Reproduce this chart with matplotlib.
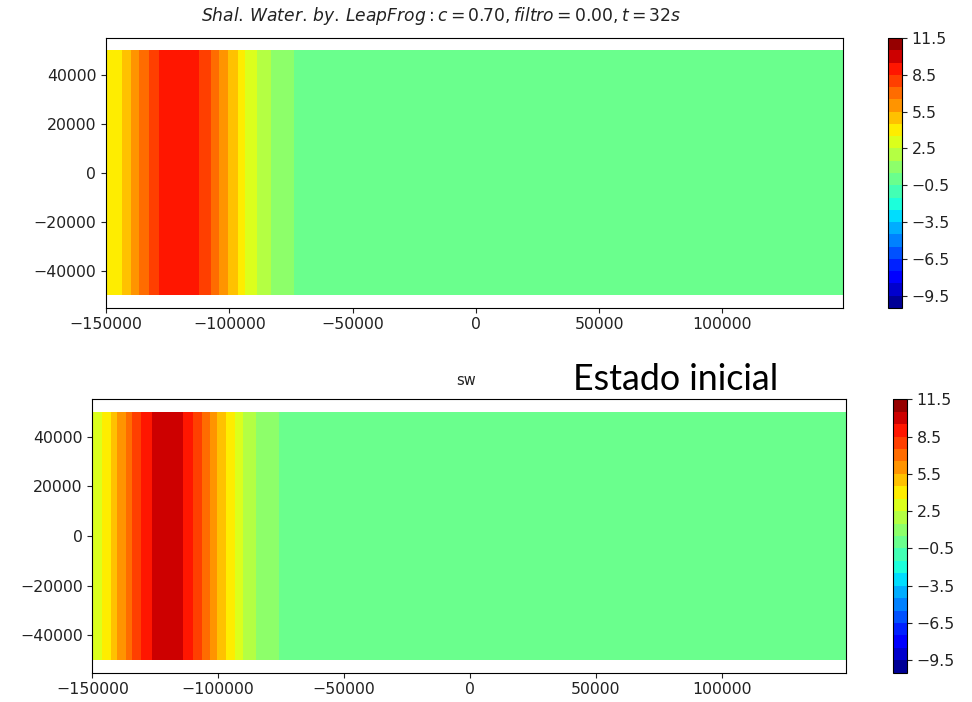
import numpy as np
import matplotlib
matplotlib.use('Agg')
import matplotlib.pyplot as plt

# eta profile along x, constant along y
x_top = [-150000, -143400, -140000, -136600, -132400, -128400, -120300, -112200,
         -107500, -104100, -100700, -96600, -93500, -88900, -83100, -73800, -70000, 148800]
eta_top = [3.8, 4.5, 5.5, 6.5, 7.5, 8.5, 9.3, 8.5,
           7.5, 6.5, 5.5, 4.5, 3.5, 2.5, 1.5, 0.5, 0.0, 0.0]

x_ini = [-150000, -146000, -142700, -140300, -136700, -134100, -130600, -126100, -120100,
         -114100, -110100, -106500, -103200, -100500, -97000, -93500, -90000, -84900,
         -76000, -72000, 149300]
eta_ini = [2.8, 3.5, 4.5, 5.5, 6.5, 7.5, 8.5, 9.5, 10.3,
           9.5, 8.5, 7.5, 6.5, 5.5, 4.5, 3.5, 2.5, 1.5,
           0.5, 0.0, 0.0]

y_grid = [-50000, 50000]
levels = np.arange(-10.5, 11.6, 1.0)
cb_ticks = [-9.5, -6.5, -3.5, -0.5, 2.5, 5.5, 8.5, 11.5]

fs = 11.3
fig = plt.figure(figsize=(9.72, 7.02), dpi=100)


def panel(rect, cbrect, xs, eta, title, title_fs, pad, title_x=0.5):
    ax = fig.add_axes(rect)
    X, Y = np.meshgrid(xs, y_grid)
    Z = np.tile(eta, (len(y_grid), 1))
    cs = ax.contourf(X, Y, Z, levels=levels, cmap='jet')
    ax.set_xlim(-150000, xs[-1])
    ax.set_ylim(-55000, 55000)
    ax.set_xticks([-150000, -100000, -50000, 0, 50000, 100000])
    ax.set_yticks([-40000, -20000, 0, 20000, 40000])
    ax.tick_params(labelsize=fs, colors='#222222')
    ax.set_title(title, fontsize=title_fs, color='#222222', pad=pad, x=title_x)
    cax = fig.add_axes(cbrect)
    cb = fig.colorbar(cs, cax=cax, ticks=cb_ticks)
    cb.ax.tick_params(labelsize=fs, colors='#222222')
    return ax


panel([0.109, 0.5617, 0.758, 0.3846], [0.9136, 0.5613, 0.0144, 0.3846],
      x_top, eta_top,
      r'$Shal.\,Water.\,by.\,LeapFrog: c = 0.70, filtro = 0.00, t = 32s$', 12.3, 12,
      title_x=0.455)
panel([0.095, 0.0417, 0.775, 0.3895], [0.9185, 0.0417, 0.0144, 0.3895],
      x_ini, eta_ini, 'sw', 10.5, 10, title_x=0.496)

fig.text(573 / 972, 1 - 390 / 702, 'Estado inicial', fontsize=25.8,
         family='Lato', color='black', va='baseline', ha='left')

fig.savefig('out.png', dpi=100)
